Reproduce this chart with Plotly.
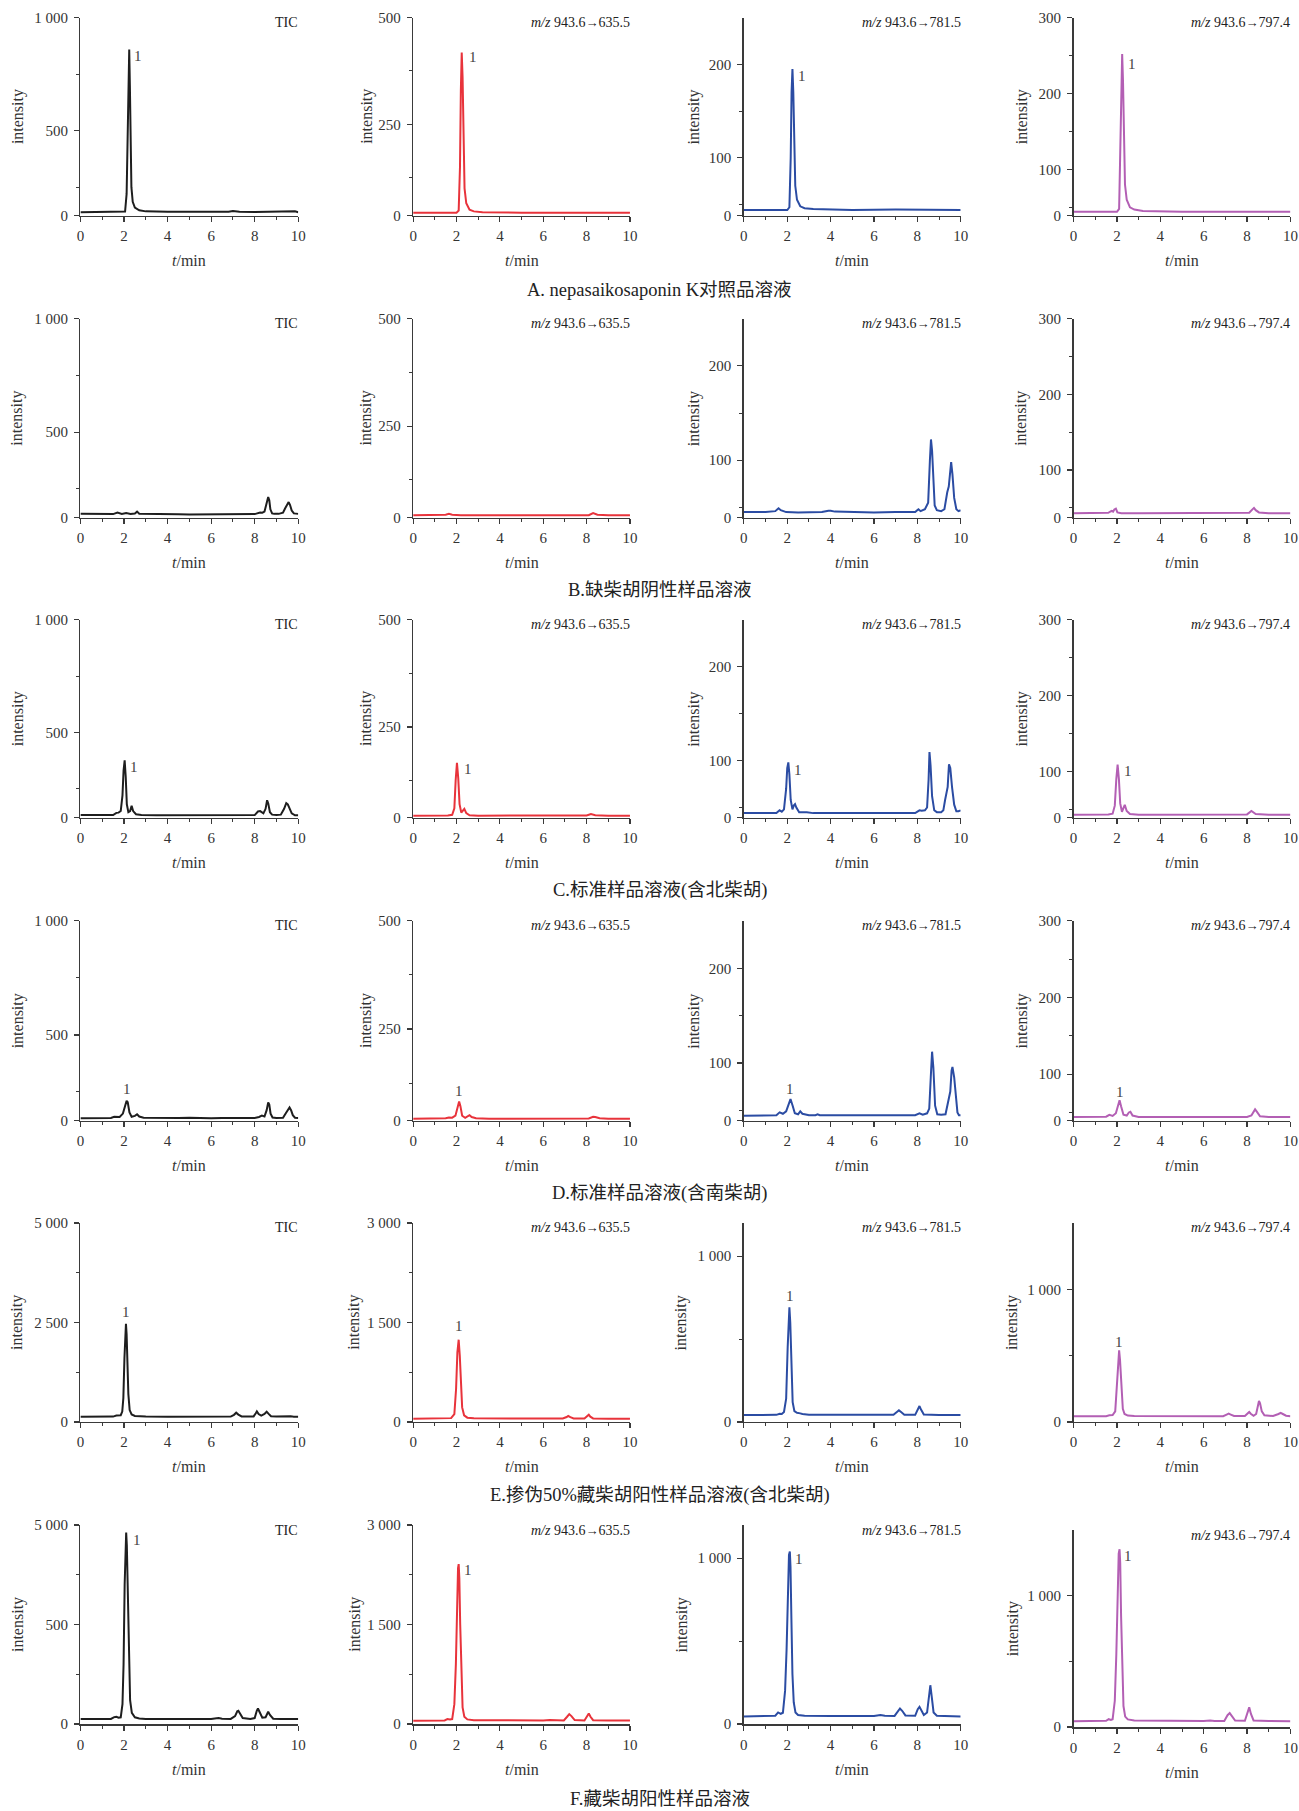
import plotly.graph_objects as go

W, H = 1299, 1811

# ---------------- data ----------------
row_ids = ["A", "B", "C", "D", "E", "F"]
captions = [
    "A. nepasaikosaponin K对照品溶液",
    "B.缺柴胡阴性样品溶液",
    "C.标准样品溶液(含北柴胡)",
    "D.标准样品溶液(含南柴胡)",
    "E.掺伪50%藏柴胡阳性样品溶液(含北柴胡)",
    "F.藏柴胡阳性样品溶液",
]
ARROW = "<span style='font-size:13px'>→</span>"
channel_labels = ["TIC", "<i>m/z</i> 943.6" + ARROW + "635.5",
                  "<i>m/z</i> 943.6" + ARROW + "781.5", "<i>m/z</i> 943.6" + ARROW + "797.4"]
colors = ["#1e1e1e", "#e8333b", "#2b4ca3", "#b35fb4"]

# ---- Row A ----
A1_t = [0, 1.0, 1.9, 2.05, 2.12, 2.17, 2.21, 2.24, 2.27, 2.3, 2.34, 2.4, 2.5, 2.7, 3.0, 4.0, 5.0, 6.0, 6.8, 7.0, 7.3, 8.0, 9.0, 9.7, 9.85, 10.0]
A1_y = [139, 140, 140, 142, 220, 560, 820, 859, 700, 420, 250, 185, 160, 148, 143, 141, 140, 140, 141, 145, 141, 140, 140, 140, 143, 139]
A2_t = [0, 1.0, 2.0, 2.1, 2.16, 2.2, 2.24, 2.28, 2.32, 2.37, 2.45, 2.6, 2.8, 3.2, 5, 7, 7.2, 8, 10]
A2_y = [43, 43, 43, 48, 150, 330, 418, 360, 200, 100, 65, 50, 46, 44, 43, 43, 44, 43, 43]
A3_t = [0, 1.0, 2.0, 2.1, 2.16, 2.2, 2.24, 2.28, 2.32, 2.37, 2.45, 2.6, 2.8, 3.2, 5, 7, 10]
A3_y = [44, 44, 44, 47, 100, 170, 195, 170, 110, 70, 55, 48, 46, 45, 44, 44.5, 44]
A4_t = [0, 1.0, 2.0, 2.1, 2.16, 2.2, 2.24, 2.28, 2.32, 2.37, 2.45, 2.6, 2.8, 3.2, 5, 7, 10]
A4_y = [44, 44, 44, 48, 125, 215, 252, 215, 135, 80, 60, 50, 47, 45, 44, 44, 44]

# ---- Row B ----
B1_t = [0, 0.5, 1.0, 1.5, 1.7, 1.9, 2.1, 2.3, 2.5, 2.6, 2.7, 3.0, 3.5, 4.0, 4.5, 5.0, 5.5, 6.0, 6.5, 7.0, 7.5, 8.0, 8.25, 8.35, 8.45, 8.55, 8.62, 8.67, 8.72, 8.8, 8.9, 9.1, 9.3, 9.4, 9.5, 9.56, 9.62, 9.7, 9.8, 9.9, 10.0]
B1_y = [140, 139, 140, 139, 146, 140, 144, 140, 142, 150, 141, 140, 139, 139, 138, 137, 137, 138, 138, 138, 138, 139, 146, 145, 150, 190, 214, 200, 160, 142, 140, 140, 145, 165, 185, 192, 180, 155, 142, 140, 140]
B2_t = [0, 1.0, 1.5, 1.65, 1.8, 2.2, 3, 5, 7, 8.1, 8.3, 8.5, 9, 10]
B2_y = [43, 43, 44, 46, 44, 43, 43, 43, 43, 43, 48, 44, 43, 43]
B3_t = [0, 1.0, 1.45, 1.6, 1.7, 1.85, 1.95, 2.5, 3.6, 3.9, 4.0, 4.2, 5, 6, 7, 7.9, 8.05, 8.15, 8.35, 8.5, 8.58, 8.63, 8.68, 8.74, 8.8, 8.9, 9.1, 9.25, 9.33, 9.38, 9.45, 9.52, 9.56, 9.62, 9.7, 9.8, 9.9, 10.0]
B3_y = [45, 45, 46, 49, 47, 46, 45, 44.5, 45, 46.5, 46.5, 45.5, 45, 44.5, 45, 45, 48, 46, 48, 55, 100, 122, 110, 70, 52, 47, 46, 48, 62, 66, 72, 95, 98, 85, 60, 48, 46, 47]
B4_t = [0, 1.0, 1.6, 1.75, 1.82, 1.88, 1.95, 2.02, 2.2, 3, 5, 7, 8.1, 8.25, 8.32, 8.4, 8.55, 9, 10]
B4_y = [43, 43, 43.5, 46, 45, 48, 49, 44, 43, 43, 43, 43, 43.5, 48, 50, 47, 44, 43, 43]

# ---- Row C ----
C1_t = [0, 0.5, 1.0, 1.5, 1.65, 1.75, 1.85, 1.93, 1.98, 2.03, 2.08, 2.13, 2.2, 2.28, 2.35, 2.42, 2.55, 2.8, 3.5, 4.5, 5.5, 6.0, 6.5, 7.5, 8.0, 8.15, 8.25, 8.4, 8.5, 8.57, 8.62, 8.7, 8.8, 9.0, 9.2, 9.35, 9.45, 9.52, 9.6, 9.7, 9.85, 10.0]
C1_y = [132, 131, 131, 132, 142, 143, 150, 220, 330, 375, 300, 180, 145, 150, 173, 150, 136, 133, 131, 131, 132, 133, 131, 130, 132, 148, 150, 140, 160, 198, 185, 145, 134, 132, 134, 160, 185, 180, 160, 140, 131, 131]
C2_t = [0, 1.0, 1.6, 1.8, 1.9, 1.96, 2.02, 2.08, 2.14, 2.22, 2.3, 2.36, 2.45, 2.6, 3, 5, 7, 8.0, 8.2, 8.4, 9, 10]
C2_y = [43, 43, 43.5, 45, 60, 125, 166, 130, 70, 50, 56, 59, 49, 44, 43, 43, 43.5, 43.5, 47, 44, 43, 43]
C3_t = [0, 1.0, 1.5, 1.65, 1.75, 1.85, 1.95, 2.0, 2.05, 2.1, 2.16, 2.24, 2.3, 2.36, 2.42, 2.55, 2.9, 3.2, 4, 5, 6, 7, 7.9, 8.1, 8.2, 8.35, 8.45, 8.52, 8.56, 8.61, 8.68, 8.78, 8.9, 9.1, 9.2, 9.28, 9.33, 9.4, 9.46, 9.52, 9.6, 9.7, 9.8, 9.9, 10]
C3_y = [44, 43.5, 44, 47, 45.5, 48, 70, 92, 98, 85, 58, 48, 52, 53.5, 50, 45, 45, 44, 44, 44, 43.5, 44, 44, 47, 46.5, 47, 50, 80, 109, 95, 62, 47, 45, 45, 47, 58, 65, 72, 96, 92, 72, 53, 46, 46, 47]
C4_t = [0, 1.0, 1.6, 1.8, 1.9, 1.97, 2.03, 2.09, 2.15, 2.23, 2.3, 2.36, 2.45, 2.6, 3, 5, 7, 8.0, 8.2, 8.4, 9, 10]
C4_y = [43, 43, 43.5, 44.5, 55, 90, 109, 90, 58, 47, 53, 56, 48, 44, 43, 43, 43, 43.5, 48, 44, 43, 43]

# ---- Row D ----
D1_t = [0, 0.5, 1.0, 1.4, 1.55, 1.65, 1.8, 1.95, 2.05, 2.12, 2.17, 2.25, 2.35, 2.5, 2.6, 2.7, 2.9, 3.5, 4.0, 4.5, 5.0, 5.5, 6.0, 6.5, 7.0, 7.5, 8.0, 8.2, 8.33, 8.45, 8.55, 8.62, 8.67, 8.73, 8.82, 9.0, 9.3, 9.45, 9.55, 9.6, 9.67, 9.75, 9.85, 10]
D1_y = [135, 135, 134, 136, 141, 141, 140, 155, 190, 211, 205, 160, 141, 145, 152, 142, 137, 136, 135, 136, 137, 135, 135, 136, 136, 135, 136, 140, 146, 142, 170, 204, 195, 155, 138, 136, 137, 160, 178, 182, 170, 148, 137, 136]
D2_t = [0, 1.0, 1.5, 1.65, 1.8, 1.95, 2.05, 2.12, 2.18, 2.26, 2.4, 2.52, 2.6, 2.7, 2.9, 3.5, 5, 7, 8.1, 8.3, 8.4, 8.6, 9, 10]
D2_y = [43, 43, 44, 46, 45.5, 50, 72, 83, 72, 50, 45, 49, 51, 47, 44, 43, 43, 43, 43.5, 47.5, 47, 44, 43, 43]
D3_t = [0, 1.0, 1.5, 1.65, 1.8, 1.95, 2.05, 2.15, 2.25, 2.35, 2.5, 2.6, 2.7, 3.0, 3.3, 3.4, 3.5, 4, 5, 6, 7, 7.9, 8.1, 8.25, 8.45, 8.55, 8.62, 8.68, 8.74, 8.82, 8.92, 9.1, 9.3, 9.38, 9.45, 9.52, 9.58, 9.62, 9.7, 9.78, 9.85, 9.92, 10]
D3_y = [44.5, 44.5, 45, 48, 46.5, 49, 56, 62, 55, 47, 46, 49, 46.5, 45, 45, 46, 45, 45, 44.5, 44.5, 44.5, 45, 47, 45.5, 47, 52, 85, 112, 95, 55, 46, 45.5, 46, 55, 66, 70, 92, 96, 85, 62, 48, 45, 45]
D4_t = [0, 1.0, 1.5, 1.65, 1.8, 1.95, 2.05, 2.12, 2.19, 2.3, 2.45, 2.55, 2.62, 2.72, 3.0, 4, 6, 8.0, 8.2, 8.3, 8.37, 8.45, 8.6, 9, 10]
D4_y = [44, 44, 44.5, 47, 45.5, 49, 60, 66, 58, 47, 46, 50, 51, 46, 44, 44, 44, 44, 46, 52, 54, 51, 45, 44, 44]

# ---- Row E ----
E1_t = [0, 0.5, 1.0, 1.5, 1.65, 1.75, 1.85, 1.92, 1.97, 2.02, 2.06, 2.09, 2.12, 2.16, 2.2, 2.26, 2.35, 2.5, 2.7, 3.0, 4.0, 5.0, 6.0, 6.3, 6.6, 6.9, 7.05, 7.15, 7.25, 7.4, 7.7, 7.95, 8.05, 8.1, 8.18, 8.3, 8.45, 8.55, 8.63, 8.75, 9.0, 9.35, 9.5, 9.65, 9.8, 10]
E1_y = [133, 133, 132, 135, 160, 167, 170, 260, 600, 1600, 2300, 2467, 2200, 1400, 700, 300, 190, 150, 140, 136, 134, 133, 134, 140, 135, 136, 180, 233, 185, 140, 135, 140, 220, 267, 200, 160, 200, 258, 210, 145, 135, 140, 150, 142, 134, 133]
E2_t = [0, 1.0, 1.6, 1.75, 1.9, 1.98, 2.04, 2.1, 2.15, 2.2, 2.26, 2.35, 2.5, 2.8, 4, 6, 6.9, 7.08, 7.15, 7.25, 7.4, 7.9, 8.03, 8.1, 8.17, 8.3, 9, 10]
E2_y = [50, 50, 52, 58, 120, 500, 1050, 1240, 1000, 550, 220, 100, 65, 55, 52, 52, 52, 75, 90, 72, 53, 52, 85, 110, 80, 53, 50, 50]
E3_t = [0, 1.0, 1.5, 1.65, 1.75, 1.85, 1.95, 2.02, 2.07, 2.1, 2.14, 2.19, 2.25, 2.33, 2.45, 2.6, 2.7, 3.0, 4, 6, 6.9, 7.07, 7.15, 7.25, 7.4, 7.9, 8.03, 8.1, 8.17, 8.3, 9, 10]
E3_y = [42, 42, 43, 50, 48, 60, 140, 450, 640, 692, 600, 300, 120, 65, 55, 52, 48, 44, 43, 42, 43, 62, 70, 60, 44, 43, 80, 96, 75, 45, 42, 42]
E4_t = [0, 1.0, 1.5, 1.65, 1.8, 1.92, 2.0, 2.06, 2.1, 2.14, 2.2, 2.27, 2.35, 2.5, 2.8, 4, 6, 6.9, 7.08, 7.15, 7.25, 7.4, 7.9, 8.03, 8.1, 8.17, 8.3, 8.42, 8.5, 8.55, 8.6, 8.68, 8.8, 9.2, 9.45, 9.55, 9.65, 9.8, 10]
E4_y = [43, 43, 44, 50, 52, 80, 280, 480, 540, 470, 250, 100, 60, 48, 45, 44, 44, 44, 58, 63, 56, 45, 45, 65, 75, 62, 46, 60, 130, 158, 140, 80, 50, 45, 60, 68, 60, 47, 44]

# ---- Row F ----
F1_t = [0, 0.5, 1.0, 1.4, 1.55, 1.65, 1.75, 1.85, 1.93, 1.98, 2.03, 2.07, 2.1, 2.13, 2.17, 2.22, 2.28, 2.36, 2.5, 2.7, 3.0, 4.0, 5.0, 6.0, 6.25, 6.35, 6.5, 6.9, 7.1, 7.2, 7.25, 7.32, 7.45, 7.8, 8.0, 8.1, 8.15, 8.22, 8.35, 8.5, 8.58, 8.62, 8.7, 8.85, 9.2, 10]
F1_y = [125, 125, 126, 130, 175, 183, 160, 170, 500, 1500, 3500, 4600, 4808, 4500, 3300, 1600, 600, 280, 170, 140, 130, 127, 126, 128, 145, 150, 135, 130, 200, 320, 333, 280, 150, 128, 150, 340, 392, 310, 160, 170, 290, 308, 230, 135, 126, 125]
F2_t = [0, 1.0, 1.45, 1.58, 1.7, 1.8, 1.9, 1.97, 2.03, 2.07, 2.1, 2.13, 2.17, 2.22, 2.28, 2.36, 2.5, 2.8, 4, 6, 6.3, 6.5, 6.95, 7.1, 7.2, 7.3, 7.45, 7.9, 8.02, 8.1, 8.18, 8.3, 9, 10]
F2_y = [50, 50, 55, 75, 68, 75, 300, 900, 1900, 2350, 2410, 2200, 1500, 700, 250, 110, 70, 58, 54, 54, 60, 55, 55, 110, 150, 120, 60, 55, 120, 160, 110, 58, 52, 52]
F3_t = [0, 1.0, 1.45, 1.58, 1.7, 1.8, 1.9, 1.97, 2.03, 2.08, 2.12, 2.15, 2.19, 2.24, 2.3, 2.38, 2.5, 2.8, 4, 6, 6.3, 6.5, 6.95, 7.1, 7.2, 7.3, 7.45, 7.9, 8.02, 8.1, 8.18, 8.3, 8.45, 8.53, 8.6, 8.66, 8.75, 8.9, 9.5, 10]
F3_y = [46, 46, 50, 70, 62, 68, 200, 450, 850, 1020, 1040, 950, 650, 300, 130, 70, 55, 50, 48, 48, 55, 50, 49, 80, 94, 80, 52, 50, 90, 104, 85, 55, 70, 180, 234, 170, 70, 50, 47, 46]
F4_t = [0, 1.0, 1.5, 1.62, 1.72, 1.8, 1.9, 1.97, 2.03, 2.08, 2.12, 2.15, 2.19, 2.24, 2.3, 2.38, 2.5, 2.8, 4, 6, 6.3, 6.5, 6.95, 7.1, 7.2, 7.3, 7.45, 7.9, 8.02, 8.1, 8.18, 8.3, 9, 10]
F4_y = [45, 45, 48, 60, 55, 60, 200, 550, 1100, 1320, 1354, 1250, 850, 400, 160, 80, 58, 50, 47, 47, 50, 47, 47, 90, 106, 85, 50, 48, 120, 150, 100, 50, 46, 45]

series = {
    "A": [(A1_t, A1_y), (A2_t, A2_y), (A3_t, A3_y), (A4_t, A4_y)],
    "B": [(B1_t, B1_y), (B2_t, B2_y), (B3_t, B3_y), (B4_t, B4_y)],
    "C": [(C1_t, C1_y), (C2_t, C2_y), (C3_t, C3_y), (C4_t, C4_y)],
    "D": [(D1_t, D1_y), (D2_t, D2_y), (D3_t, D3_y), (D4_t, D4_y)],
    "E": [(E1_t, E1_y), (E2_t, E2_y), (E3_t, E3_y), (E4_t, E4_y)],
    "F": [(F1_t, F1_y), (F2_t, F2_y), (F3_t, F3_y), (F4_t, F4_y)],
}

# y-axis bottoms (labelled "0" in the original) and tops
y_low = {"A": [124, 36, 38, 39], "B": [123, 37, 39, 37], "C": [120, 38, 39, 39],
         "D": [123, 38, 39, 39], "E": [0, 0, 0, 0], "F": [0, 0, 0, 0]}
y_high = {"A": [1000, 500, 250, 300], "B": [1000, 500, 250, 300], "C": [1000, 500, 250, 300],
          "D": [1000, 500, 250, 300], "E": [5000, 3000, 1200, 1500], "F": [5000, 3000, 1200, 1500]}

# labelled y ticks, their labels, and unlabelled minor ticks
ticks_small = [([500, 1000], ["500", "1 000"], [250, 750]),
               ([250, 500], ["250", "500"], [125, 375]),
               ([100, 200], ["100", "200"], [50, 150]),
               ([100, 200, 300], ["100", "200", "300"], [50, 150, 250])]
ticks_E = [([2500, 5000], ["2 500", "5 000"], [1250, 3750]),
           ([1500, 3000], ["1 500", "3 000"], [750, 2250]),
           ([1000], ["1 000"], [500]),
           ([1000], ["1 000"], [500])]
ticks_F = [([2500, 5000], ["500", "5 000"], [1250, 3750]),
           ([1500, 3000], ["1 500", "3 000"], [750, 2250]),
           ([1000], ["1 000"], [500]),
           ([1000], ["1 000"], [500])]
y_ticks = {"A": ticks_small, "B": ticks_small, "C": ticks_small, "D": ticks_small, "E": ticks_E, "F": ticks_F}

x_tickvals = [0, 2, 4, 6, 8, 10]
x_ticktext = ["0", "2", "4", "6", "8", "10"]
x_minor = [1, 3, 5, 7, 9]

# peak "1" label positions (t, intensity)
peak_labels = {
    "A": [(2.66, 830), (2.75, 407), (2.7, 188), (2.7, 239)],
    "B": [None, None, None, None],
    "C": [(2.48, 347), (2.52, 152), (2.5, 90), (2.53, 101)],
    "D": [(2.13, 261), (2.13, 108), (2.13, 73), (2.12, 77)],
    "E": [(2.1, 2750), (2.12, 1440), (2.12, 760), (2.11, 603)],
    "F": [(2.6, 4617), (2.54, 2320), (2.52, 996), (2.5, 1303)],
}

# ---------------- layout geometry (target pixels in the reference) ----------------
col_x = [(79, 297), (412, 629), (743, 960), (1073, 1290)]
row_y = {"A": (17, 215), "B": (318, 517), "C": (619, 817), "D": (920, 1120), "E": (1222, 1421), "F": (1524, 1723)}
special_y = {("F", 3): (1529, 1726)}
intens_x = {"small": [16, 365, 693, 1021], "big": [16, 353, 681, 1012]}
caption_y = {"A": 289, "B": 589, "C": 890, "D": 1193, "E": 1495, "F": 1798}

# the photographed page comes out slightly scaled; compensate
SX, BX = 0.9916, 2.5
SY, BY = 0.9909, 7.4


def px_x(v):
    return ((v - BX) / SX) / W


def px_y(v):
    return 1 - ((v - BY) / SY) / H


SERIF = "Liberation Serif, Times New Roman, Noto Sans CJK SC, serif"
AX = "#3a3a3a"
TXT = "#333333"

fig = go.Figure()
layout = dict(width=W, height=H, margin=dict(l=0, r=0, t=0, b=0),
              paper_bgcolor="white", plot_bgcolor="white", showlegend=False)
annotations = []

k = 0
for r in row_ids:
    for c in range(4):
        k += 1
        xa = "x" if k == 1 else f"x{k}"
        ya = "y" if k == 1 else f"y{k}"
        xkey = "xaxis" if k == 1 else f"xaxis{k}"
        ykey = "yaxis" if k == 1 else f"yaxis{k}"
        x0, x1 = col_x[c]
        top, bot = special_y.get((r, c), row_y[r])
        t, y = series[r][c]
        fig.add_trace(go.Scatter(x=t, y=y, mode="lines", xaxis=xa, yaxis=ya,
                                 line=dict(color=colors[c], width=2), hoverinfo="skip"))
        layout[xkey] = dict(domain=[px_x(x0), px_x(x1)], anchor=ya, range=[0, 10],
                            showline=True, linecolor=AX, linewidth=1.5,
                            ticks="outside", ticklen=5, tickwidth=1.2, tickcolor=AX,
                            tickmode="array", tickvals=x_tickvals, ticktext=x_ticktext,
                            minor=dict(tickmode="array", tickvals=x_minor, ticks="outside",
                                       ticklen=3, tickwidth=1, tickcolor=AX),
                            showgrid=False, zeroline=False, ticklabelstandoff=1,
                            tickfont=dict(family=SERIF, size=15, color=TXT))
        lo, hi = y_low[r][c], y_high[r][c]
        tv, tt, mv = y_ticks[r][c]
        layout[ykey] = dict(domain=[px_y(bot), px_y(top)], anchor=xa, range=[lo, hi],
                            showline=True, linecolor=AX, linewidth=1.5,
                            ticks="outside", ticklen=5, tickwidth=1.2, tickcolor=AX,
                            tickmode="array", tickvals=[lo] + tv, ticktext=["0"] + tt,
                            minor=dict(tickmode="array", tickvals=mv, ticks="outside",
                                       ticklen=3, tickwidth=1, tickcolor=AX),
                            showgrid=False, zeroline=False, ticklabelstandoff=3,
                            tickfont=dict(family=SERIF, size=15, color=TXT))
        # channel label
        annotations.append(dict(text=channel_labels[c], xref=f"{xa} domain", yref=f"{ya} domain",
                                x=1, y=1, xanchor="right", yanchor="middle", xshift=2, yshift=-5,
                                showarrow=False, font=dict(family=SERIF, size=14, color="#222")))
        # intensity label
        ix = intens_x["big" if r in ("E", "F") else "small"][c]
        annotations.append(dict(text="intensity", xref="paper", yref=f"{ya} domain",
                                x=px_x(ix), y=0.5, xanchor="center", yanchor="middle", textangle=-90,
                                showarrow=False, font=dict(family=SERIF, size=16, color=TXT)))
        # t/min label
        annotations.append(dict(text="<i>t</i>/min", xref=f"{xa} domain", yref=f"{ya} domain",
                                x=0.5, y=0, xanchor="center", yanchor="middle", yshift=-45,
                                showarrow=False, font=dict(family=SERIF, size=16, color=TXT)))
        # peak label
        pl = peak_labels[r][c]
        if pl is not None:
            annotations.append(dict(text="1", xref=xa, yref=ya, x=pl[0], y=pl[1],
                                    xanchor="center", yanchor="middle", showarrow=False,
                                    font=dict(family=SERIF, size=15, color="#444")))
    annotations.append(dict(text=captions[row_ids.index(r)], xref="paper", yref="paper",
                            x=px_x(659), y=px_y(caption_y[r]), xanchor="center", yanchor="middle",
                            showarrow=False, font=dict(family=SERIF, size=18.5, color="#222")))

layout["annotations"] = annotations
fig.update_layout(**layout)
fig.write_html(
    "out.html",
    config={"displayModeBar": False, "staticPlot": True},
    post_script=("document.documentElement.style.margin='0';document.body.style.margin='0';"
                 "document.body.style.padding='0';document.documentElement.style.overflow='hidden';"
                 "document.body.style.overflow='hidden';"),
)
